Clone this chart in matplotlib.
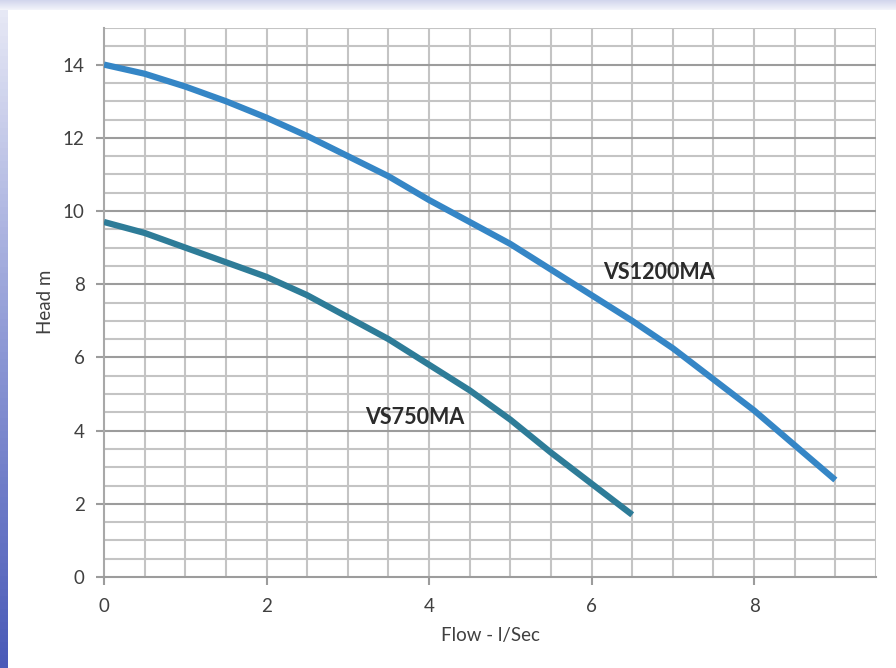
import matplotlib
matplotlib.use("Agg")
import matplotlib.pyplot as plt
import numpy as np

flow = [0, 0.5, 1, 1.5, 2, 2.5, 3, 3.5, 4, 4.5, 5, 5.5, 6, 6.5, 7, 7.5, 8, 8.5, 9]
head_1200 = [14.0, 13.75, 13.4, 13.0, 12.55, 12.05, 11.5, 10.95, 10.3, 9.7, 9.1, 8.4,
             7.7, 7.0, 6.25, 5.4, 4.55, 3.6, 2.65]
flow_750 = [0, 0.5, 1, 1.5, 2, 2.5, 3, 3.5, 4, 4.5, 5, 5.5, 6, 6.5]
head_750 = [9.7, 9.4, 9.0, 8.6, 8.2, 7.7, 7.1, 6.5, 5.8, 5.1, 4.3, 3.4, 2.55, 1.7]

x_ticks = [0, 2, 4, 6, 8]
y_ticks = [0, 2, 4, 6, 8, 10, 12, 14]
x_label = "Flow - l/Sec"
y_label = "Head m"
label_1200 = "VS1200MA"
label_750 = "VS750MA"

plt.rcParams['font.family'] = ['Lato', 'DejaVu Sans']

fig = plt.figure(figsize=(8.96, 6.68), dpi=100)
fig.patch.set_facecolor('white')

# decorative frame: top band and left gradient strip
top = fig.add_axes([0, 0.985, 1, 0.015])
top.imshow(np.linspace(0, 1, 10).reshape(-1, 1), aspect='auto', cmap=matplotlib.colors.LinearSegmentedColormap.from_list('t', ['#cfd3ec', '#f2f3fa']), extent=[0, 1, 0, 1])
top.axis('off')
left = fig.add_axes([0, 0, 0.008, 0.985])
left.imshow(np.linspace(0, 1, 100).reshape(-1, 1), aspect='auto', cmap=matplotlib.colors.LinearSegmentedColormap.from_list('l', ['#e6e8f5', '#8f9ad6', '#4a5ab8']), extent=[0, 1, 0, 1])
left.axis('off')

ax = fig.add_axes([104/896, 1 - 577/668, (876-104)/896, (577-28)/668])
ax.set_facecolor('white')
ax.set_xlim(0, 9.5)
ax.set_ylim(0, 15)

for v in np.arange(0.5, 9.51, 0.5):
    ax.axvline(v, color='#c4c4c4', lw=1.5, zorder=1)
for h in np.arange(0.5, 15.01, 0.5):
    major = abs(h - round(h)) < 1e-9 and int(round(h)) % 2 == 0 and h < 15
    ax.axhline(h, color='#9c9c9c' if major else '#c4c4c4', lw=1.5, zorder=1)

ax.plot(flow, head_1200, color='#3586c6', lw=4.5, solid_capstyle='butt', zorder=3)
ax.plot(flow_750, head_750, color='#2e7c98', lw=4.5, solid_capstyle='butt', zorder=3)

ax.text(6.83, 8.31, label_1200, fontsize=15.5, fontweight='bold', color='#2b2b2b', ha='center', va='center', zorder=4)
ax.text(3.83, 4.35, label_750, fontsize=15.5, fontweight='bold', color='#2b2b2b', ha='center', va='center', zorder=4)

for s in ['top', 'right']:
    ax.spines[s].set_visible(False)
ax.spines['left'].set_color('#a8a8a8')
ax.spines['left'].set_linewidth(1.5)
ax.spines['bottom'].set_color('#9c9c9c')
ax.spines['bottom'].set_linewidth(1.5)

ax.set_xticks(x_ticks)
ax.set_yticks(y_ticks)
ax.tick_params(axis='both', colors='#9c9c9c', labelcolor='#404040', labelsize=13.5, length=6, width=1.5)
ax.tick_params(axis='x', pad=9)
ax.tick_params(axis='y', pad=8)

fig.text(490/896, 1 - 636/668, x_label, fontsize=13.5, color='#404040', ha='center', va='center')
fig.text(45/896, 1 - 302/668, y_label, fontsize=13.5, color='#404040', ha='center', va='center', rotation=90)

fig.savefig('out.png', dpi=100, facecolor=fig.get_facecolor())
